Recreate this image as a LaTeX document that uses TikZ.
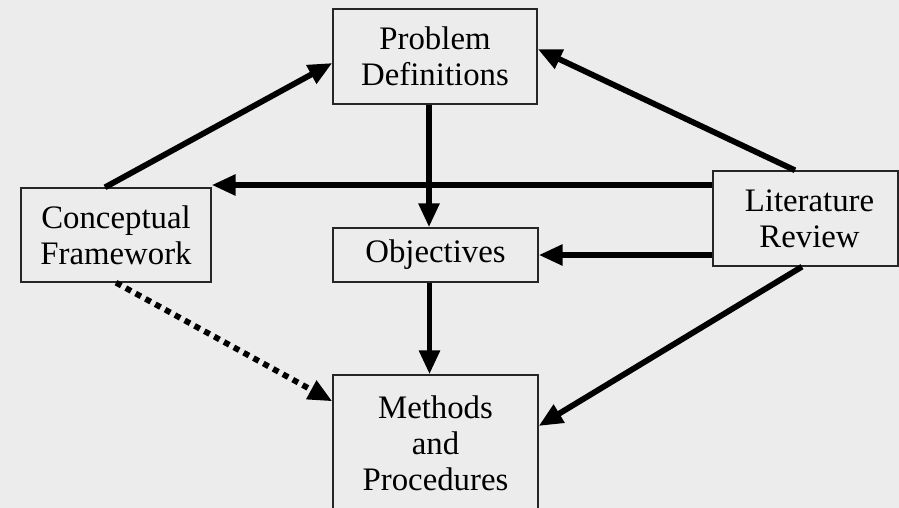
\documentclass[tikz,border=0pt]{standalone}
\usepackage{fontspec}
\setmainfont{Liberation Serif}
\usetikzlibrary{arrows.meta,calc}
\definecolor{bg}{RGB}{236,236,236}
\begin{document}
\begin{tikzpicture}[x=0.5pt,y=-0.5pt,
  box/.style={draw=black!85, line width=0.7pt, inner sep=0pt, align=center,
    font=\fontsize{16.4}{18}\selectfont},
  arr/.style={line width=2.9pt, -{Triangle[length=12pt,width=10pt]}},
  dotarr/.style={arr, dash pattern=on 3pt off 2.6pt}]
\fill[bg] (0,0) rectangle (899,508);
\clip (0,0) rectangle (899,508);
\node[box, minimum width=102pt, minimum height=47.5pt] (pd) at (435,56.5) {Problem\\Definitions};
\node[box, minimum width=95pt, minimum height=47pt] (cf) at (116,235) {Conceptual\\Framework};
\node[box, minimum width=102.5pt, minimum height=27pt] (ob) at (435.5,255) {Objectives};
\node[box, minimum width=92.5pt, minimum height=47.5pt] (lr) at (805.5,218.5) {\hspace*{4pt}Literature\\\hspace*{4pt}Review};
\node[box, minimum width=102.5pt, minimum height=68pt] (mp) at (435.5,443) {Methods\\and\\Procedures};
\draw[arr] ([xshift=-5.5pt]cf.north) -- ([yshift=-3.25pt]pd.west);
\draw[arr] ([xshift=-5.25pt]lr.north) -- ([yshift=3.75pt]pd.east);
\draw[arr] ([yshift=16.75pt]lr.west) -- ([yshift=16.75pt]lr.west -| cf.east);
\draw[arr] ([xshift=-3pt]pd.south) -- ([xshift=-3pt]pd.south |- ob.north);
\draw[arr] (lr.west |- ob.east) -- (ob.east);
\draw[arr] ([xshift=-3pt]ob.south) -- ([xshift=-3pt]ob.south |- mp.north);
\draw[arr] ([xshift=-1.75pt]lr.south) -- ([yshift=8.5pt]mp.east);
\draw[dotarr] (cf.south) -- ([yshift=-13.5pt]mp.north west);
\end{tikzpicture}
\end{document}
